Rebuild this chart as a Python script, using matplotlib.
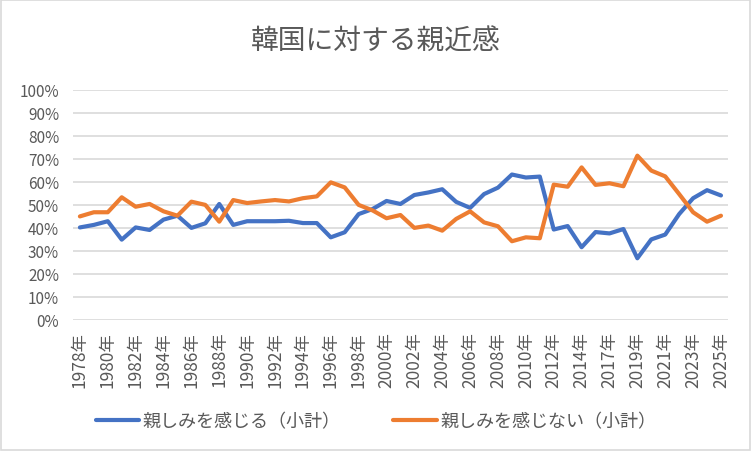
import matplotlib
matplotlib.use('Agg')
import matplotlib.pyplot as plt
from matplotlib.ticker import PercentFormatter
from matplotlib.patches import Rectangle

plt.rcParams['font.family'] = ['Noto Sans CJK JP', 'DejaVu Sans']

# survey years (no 2015 survey in the series)
years = list(range(1978, 2015)) + [2016] + list(range(2017, 2026))
year_labels = [f'{y}年' for y in years]

# 親しみを感じる（小計） (%)
feel_close = [40.1, 41.2, 42.8, 34.8, 40.1, 39.0, 43.5, 45.2, 39.9, 41.9,
              50.3, 41.2, 42.8, 42.8, 42.8, 43.0, 42.0, 42.0, 35.8, 38.0,
              45.9, 48.1, 51.6, 50.3, 54.2, 55.3, 56.7, 51.2, 48.6, 54.6,
              57.4, 63.1, 61.8, 62.2, 39.2, 40.7, 31.5, 38.1, 37.5, 39.4,
              26.7, 34.9, 37.0, 45.9, 52.8, 56.3, 54.0]

# 親しみを感じない（小計） (%)
not_close = [44.9, 46.7, 46.7, 53.2, 49.1, 50.3, 47.1, 45.2, 51.3, 49.9,
             42.6, 52.0, 50.7, 51.4, 52.0, 51.4, 52.8, 53.6, 59.7, 57.5,
             49.9, 47.5, 44.1, 45.5, 39.9, 40.9, 38.7, 43.8, 47.1, 42.3,
             40.6, 34.1, 35.8, 35.4, 58.7, 57.8, 66.2, 58.6, 59.3, 58.0,
             71.3, 64.8, 62.3, 54.6, 46.7, 42.6, 45.2]

series_names = ['親しみを感じる（小計）', '親しみを感じない（小計）']
colors = ['#4472C4', '#ED7D31']
text_color = '#595959'

fig = plt.figure(figsize=(7.52, 4.52), dpi=100)
ax = fig.add_axes([0.097, 0.2905, 0.871, 0.509])

x = list(range(len(years)))
ax.plot(x, feel_close, color=colors[0], lw=3, label=series_names[0], solid_capstyle='round')
ax.plot(x, not_close, color=colors[1], lw=3, label=series_names[1], solid_capstyle='round')

ax.set_xlim(-0.5, len(years) - 0.5)
ax.set_ylim(0, 100)
ax.set_yticks(range(0, 101, 10))
ax.yaxis.set_major_formatter(PercentFormatter(decimals=0))
ax.set_xticks(x[::2])
ax.set_xticklabels(year_labels[::2], rotation=90)
ax.grid(axis='y', color='#d9d9d9', lw=1.2)
ax.set_axisbelow(True)
for s in ax.spines.values():
    s.set_visible(False)
ax.tick_params(length=0, colors=text_color, labelsize=11)
ax.tick_params(axis='y', pad=10)
ax.tick_params(axis='x', pad=8, labelsize=12.5)

fig.suptitle('韓国に対する親近感', x=0.5, y=0.94, fontsize=20, color=text_color)

leg = fig.legend(loc='center', bbox_to_anchor=(0.5, 0.066), ncol=2, frameon=False,
                 fontsize=13, handlelength=2.4, columnspacing=2.9, handletextpad=0.2)
for t in leg.get_texts():
    t.set_color(text_color)

fig.patches.append(Rectangle((0.001, 0.002), 0.997, 0.996, transform=fig.transFigure,
                             fill=False, edgecolor='#d9d9d9', lw=1.2))

fig.savefig('out.png', dpi=100)
